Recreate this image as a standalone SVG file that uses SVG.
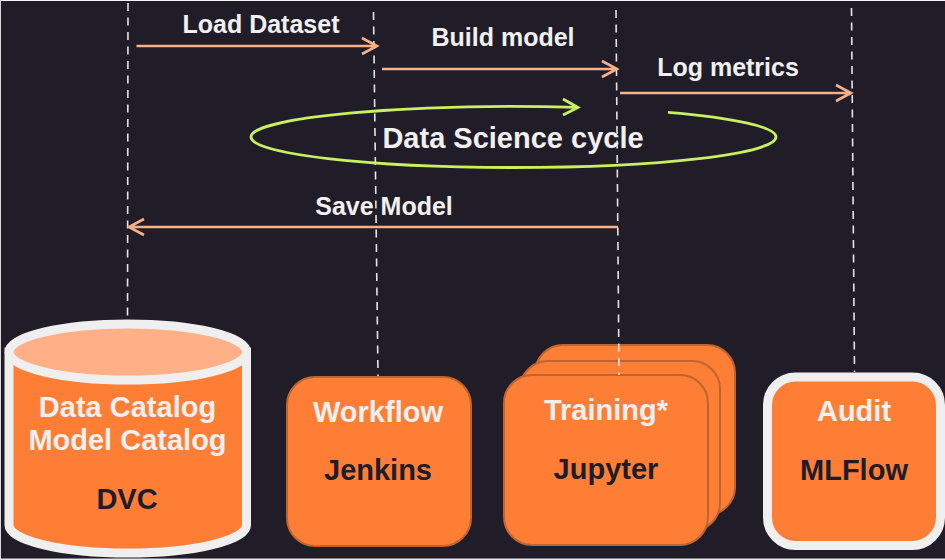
<svg xmlns="http://www.w3.org/2000/svg" width="945" height="560" viewBox="0 0 945 560">
<style>
text{font-family:"Liberation Sans",Arial,sans-serif;font-weight:700;text-anchor:middle}
.lt{fill:#f0f0f0}
.dk{fill:#201d29}
.lab{font-size:25px}
.big{font-size:29px}
.node{font-size:29px}
.life{stroke:#e4e4e4;stroke-width:1.6;stroke-dasharray:8 6.500;fill:none}
.msg{stroke:#f6b189;stroke-width:2.600;fill:none}
.cyc{stroke:#c8f060;stroke-width:2.800;fill:none}
.box{fill:#ff7e36;stroke:#bd6530;stroke-width:2}
.white{fill:#ff7e36;stroke:#efefef;stroke-width:9}
</style>
<rect width="945" height="560" fill="#201d29"/>
<rect width="945" height="1" fill="#f4f4f4"/>
<rect width="1" height="560" fill="#d8d8dc"/>
<rect y="558.500" width="945" height="1.500" fill="#e8e8ea"/>
<g id="node-dvc">
<path class="white" d="M9 352V525A118.500 28 0 0 0 246.500 525V352Z"/>
<ellipse cx="127.800" cy="352" rx="118.700" ry="28" fill="#ffb086" stroke="#efefef" stroke-width="9"/>
<text class="node lt" x="127.500" y="417">Data Catalog</text>
<text class="node lt" x="127.500" y="450">Model Catalog</text>
<text class="node dk" x="127" y="509">DVC</text>
</g>
<g id="node-workflow">
<rect class="box" x="287" y="377" width="184" height="169" rx="28"/>
<text class="node lt" x="378" y="422">Workflow</text>
<text class="node dk" x="378" y="480">Jenkins</text>
</g>
<g id="node-training">
<rect class="box" x="535" y="345" width="200" height="170" rx="28"/>
<rect class="box" x="520" y="361" width="200" height="170" rx="28"/>
<rect class="box" x="504" y="375" width="204" height="170" rx="28"/>
<text class="node lt" x="606" y="420">Training*</text>
<text class="node dk" x="606" y="479">Jupyter</text>
</g>
<g id="node-audit">
<rect class="white" x="767.500" y="377" width="173" height="168.500" rx="28"/>
<text class="node lt" x="854" y="421">Audit</text>
<text class="node dk" x="854" y="480">MLFlow</text>
</g>
<g id="connectors">
<path class="life" d="M128 3L127.500 320"/>
<path class="life" d="M373.500 12L378 376"/>
<path class="life" d="M616 10L619 375"/>
<path class="life" d="M851.500 8L854.500 372"/>
<path class="msg" d="M136.500 46H376M362 38L377 46L362 54"/>
<path class="msg" d="M382 69H616M602 61L617 69L602 77"/>
<path class="msg" d="M620 93H850M836 85L851 93L836 101"/>
<path class="msg" d="M618 227H129M144 219L129 227L144 235"/>
<path class="cyc" d="M668 112.340A262.500 30.500 0 0 1 776 137A262.500 30.500 0 0 1 251 137A262.500 30.500 0 0 1 578 107.440M563 99L578 107.440L563 115"/>
</g>
<g id="label-load"><text class="lab lt" x="261" y="33">Load Dataset</text></g>
<g id="label-build"><text class="lab lt" x="503" y="46">Build model</text></g>
<g id="label-log"><text class="lab lt" x="728" y="76">Log metrics</text></g>
<g id="label-cycle"><text class="big lt" x="513" y="148">Data Science cycle</text></g>
<g id="label-save"><text class="lab lt" x="384" y="215">Save Model</text></g>
</svg>
